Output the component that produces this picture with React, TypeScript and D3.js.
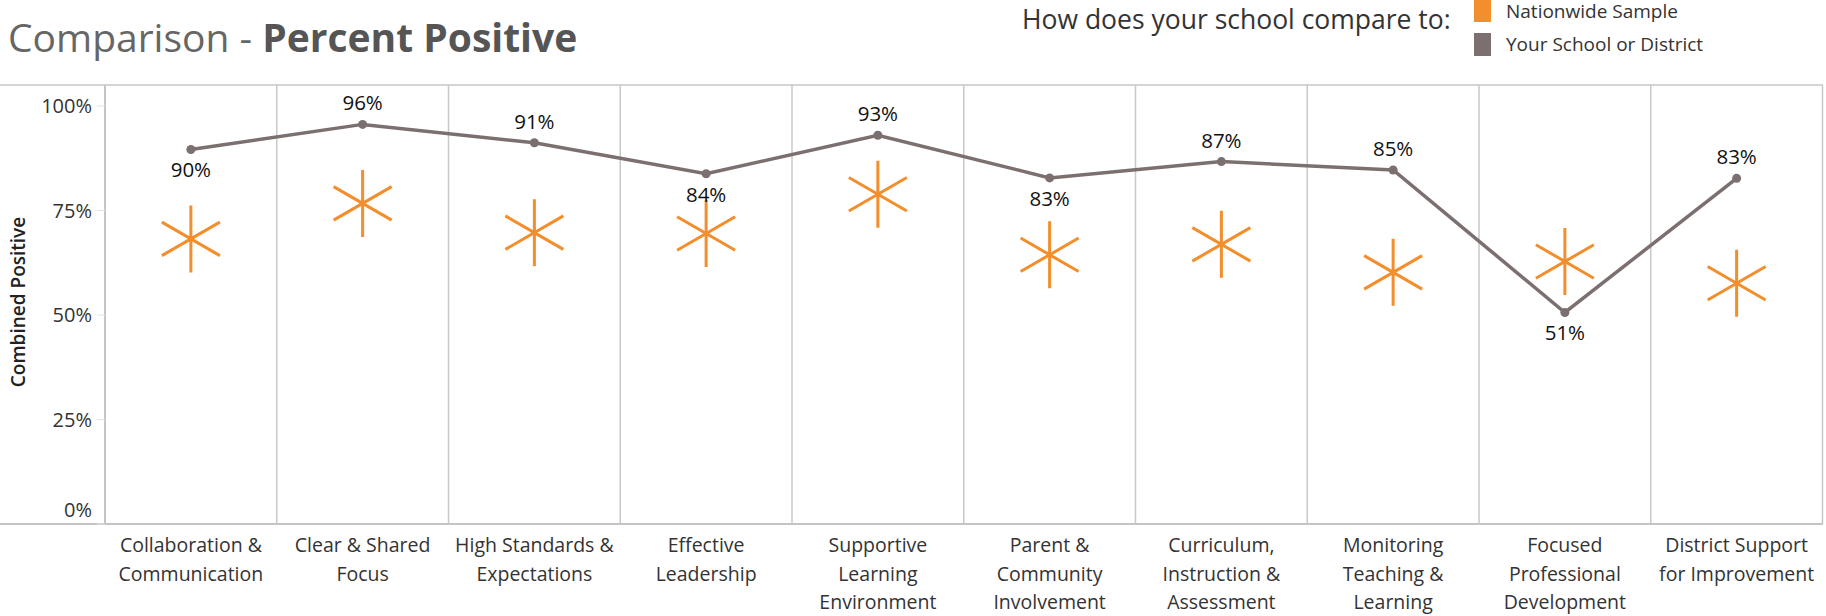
import React from "react";
import * as d3 from "d3";

const categories: string[][] = [
  ["Collaboration &", "Communication"],
  ["Clear & Shared", "Focus"],
  ["High Standards &", "Expectations"],
  ["Effective", "Leadership"],
  ["Supportive", "Learning", "Environment"],
  ["Parent &", "Community", "Involvement"],
  ["Curriculum,", "Instruction &", "Assessment"],
  ["Monitoring", "Teaching &", "Learning"],
  ["Focused", "Professional", "Development"],
  ["District Support", "for Improvement"],
];

// Your School or District (percent)
const schoolValues = [89.6, 95.6, 91.2, 83.8, 93.0, 82.8, 86.7, 84.7, 50.6, 82.7];
// Nationwide Sample (percent)
const nationValues = [68.2, 76.7, 69.7, 69.5, 78.9, 64.4, 66.9, 60.2, 62.8, 57.6];

const yTicks = [0, 25, 50, 75, 100];
const legendItems = ["Nationwide Sample", "Your School or District"];

const W = 1826;
const H = 616;
const FONT = "'Open Sans', 'Noto Sans', sans-serif";
const ORANGE = "#f28e2b";
const GRAY = "#7b706f";

export default function App() {
  const keys = categories.map((c) => c.join(" "));
  const x = d3.scaleBand<string>().domain(keys).range([105, 1822.5]).padding(0);
  const y = d3.scaleLinear().domain([0, 100]).range([524, 106]);
  const cx = (i: number) => (x(keys[i]) as number) + x.bandwidth() / 2;
  const fmt = (v: number) => d3.format(".0%")(v / 100);

  const line = d3
    .line<number>()
    .x((_, i) => cx(i))
    .y((d) => y(d));

  const below = schoolValues.map((v, i) => {
    const nb: number[] = [];
    if (i > 0) nb.push(schoolValues[i - 1]);
    if (i < schoolValues.length - 1) nb.push(schoolValues[i + 1]);
    return nb.every((n) => v < n);
  });

  const R = 33.5;
  const star = (px: number, py: number) => {
    const segs: string[] = [];
    [90, 30, 150].forEach((a) => {
      const r = (a * Math.PI) / 180;
      const dx = R * Math.cos(r);
      const dy = R * Math.sin(r);
      segs.push(`M${px - dx},${py - dy}L${px + dx},${py + dy}`);
    });
    return segs.join("");
  };

  const dividers = keys.slice(1).map((k) => x(k) as number).concat([1822.5]);

  return (
    <svg
      width={W}
      height={H}
      style={{ position: "absolute", left: 0, top: 0, background: "#fff" }}
      fontFamily={FONT}
    >
      {/* Title */}
      <text x={8} y={52} fontSize={39} fill="#555">
        <tspan fontWeight={400} fill="#666">Comparison - </tspan>
        <tspan fontWeight={700}>Percent Positive</tspan>
      </text>

      {/* Legend */}
      <text x={1022} y={29} fontSize={26.5} fill="#333">
        How does your school compare to:
      </text>
      <rect x={1474} y={-1} width={17} height={23} fill={ORANGE} />
      <rect x={1474} y={33} width={17} height={23} fill={GRAY} />
      <text x={1506} y={17.5} fontSize={19} fill="#333">
        {legendItems[0]}
      </text>
      <text x={1506} y={51} fontSize={19} fill="#333">
        {legendItems[1]}
      </text>

      {/* Frame */}
      <line x1={0} x2={1823} y1={85} y2={85} stroke="#d4d4d4" strokeWidth={2} />
      <line x1={0} x2={1823} y1={524} y2={524} stroke="#c4c4c4" strokeWidth={2} />
      <line x1={105} x2={105} y1={85} y2={524} stroke="#c4c4c4" strokeWidth={2} />
      {dividers.map((d, i) => (
        <line key={i} x1={d} x2={d} y1={85} y2={524} stroke="#c8c8c8" strokeWidth={1.5} />
      ))}

      {/* Y axis */}
      {yTicks.map((t) => (
        <g key={t}>
          <line x1={97} x2={105} y1={y(t)} y2={y(t)} stroke="#e2e2e2" strokeWidth={1} />
          <text
            x={92}
            y={Math.min(y(t), 510) + 7}
            textAnchor="end"
            fontSize={20}
            fill="#333"
          >
            {t}%
          </text>
        </g>
      ))}
      <text
        transform={`translate(25,302) rotate(-90)`}
        textAnchor="middle"
        fontSize={19}
        fontWeight={600}
        fill="#222"
      >
        Combined Positive
      </text>

      {/* Category labels */}
      {categories.map((lines, i) => (
        <text key={i} textAnchor="middle" fontSize={19.5} fill="#333">
          {lines.map((l, j) => (
            <tspan key={j} x={cx(i)} y={552 + j * 28.5}>
              {l}
            </tspan>
          ))}
        </text>
      ))}

      {/* Nationwide asterisks */}
      {nationValues.map((v, i) => (
        <path key={i} d={star(cx(i), y(v))} stroke={ORANGE} strokeWidth={3} fill="none" />
      ))}

      {/* School line */}
      <path d={line(schoolValues) || ""} fill="none" stroke={GRAY} strokeWidth={3.5} />
      {schoolValues.map((v, i) => (
        <circle key={i} cx={cx(i)} cy={y(v)} r={4.5} fill={GRAY} />
      ))}
      {schoolValues.map((v, i) => (
        <text
          key={i}
          x={cx(i)}
          y={below[i] ? y(v) + 28 : y(v) - 14}
          textAnchor="middle"
          fontSize={20.5}
          fill="#111"
        >
          {fmt(v)}
        </text>
      ))}
    </svg>
  );
}
